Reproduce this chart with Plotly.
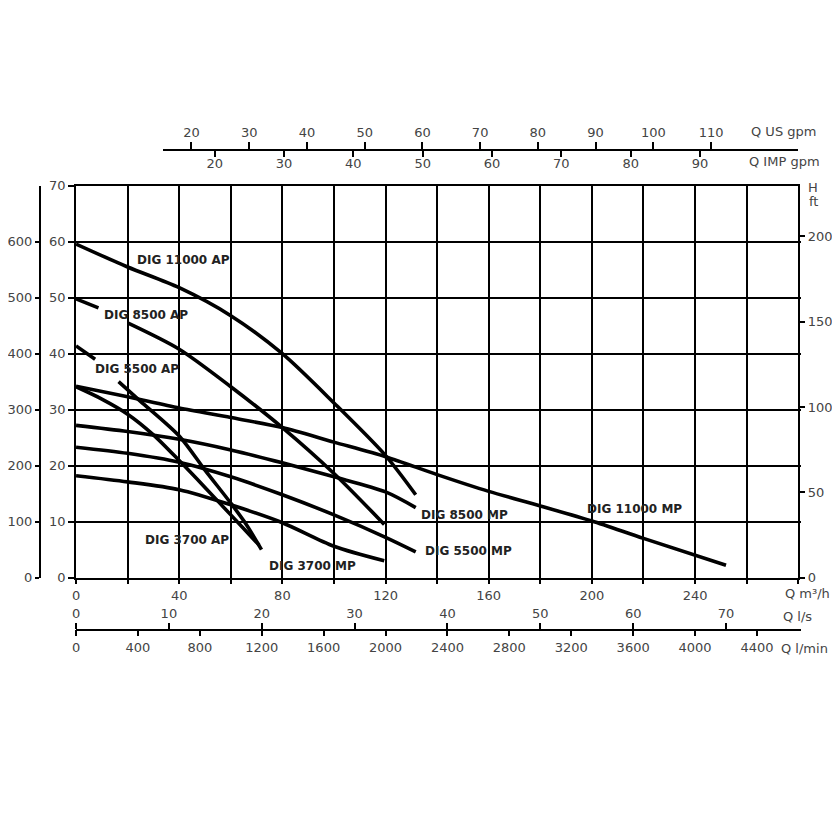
import plotly.graph_objects as go

# ---------------- data (Q in m3/h, H in m) ----------------
q_11000_ap = [0, 20, 40, 60, 80, 100, 120, 131.7]
h_11000_ap = [59.6, 55.5, 51.8, 46.8, 40.0, 31.2, 21.8, 14.8]

q_8500_ap = [0, 8.7, None, 20, 40, 60, 80, 100, 119.5]
h_8500_ap = [49.8, 48.2, None, 45.5, 40.8, 34.1, 26.8, 18.6, 9.5]

q_5500_ap = [0, 7.4, None, 16.5, 25, 40, 50, 60, 66, 71.9]
h_5500_ap = [41.4, 39.0, None, 35.0, 31.5, 25.3, 19.2, 13.3, 9.5, 5.0]

q_3700_ap = [0, 10, 20, 30, 40, 50, 60, 71]
h_3700_ap = [34.1, 31.9, 29.2, 25.5, 20.9, 16.1, 11.2, 5.8]

q_11000_mp = [0, 20, 40, 60, 80, 100, 120, 140, 160, 180, 200, 220, 252]
h_11000_mp = [34.2, 32.3, 30.3, 28.6, 26.8, 24.2, 21.6, 18.4, 15.4, 12.8, 10.1, 7.0, 2.2]

q_8500_mp = [0, 20, 40, 60, 80, 100, 120, 131.7]
h_8500_mp = [27.2, 26.1, 24.7, 22.8, 20.5, 18.0, 15.3, 12.5]

q_5500_mp = [0, 20, 40, 60, 80, 100, 120, 131.7]
h_5500_mp = [23.3, 22.2, 20.6, 18.0, 14.8, 11.2, 7.2, 4.6]

q_3700_mp = [0, 20, 40, 60, 80, 100, 119.5]
h_3700_mp = [18.2, 17.1, 15.7, 13.0, 9.8, 5.6, 3.0]

curve_names = ["DIG 11000 AP", "DIG 8500 AP", "DIG 5500 AP", "DIG 3700 AP",
               "DIG 11000 MP", "DIG 8500 MP", "DIG 5500 MP", "DIG 3700 MP"]
curve_q = [q_11000_ap, q_8500_ap, q_5500_ap, q_3700_ap,
           q_11000_mp, q_8500_mp, q_5500_mp, q_3700_mp]
curve_h = [h_11000_ap, h_8500_ap, h_5500_ap, h_3700_ap,
           h_11000_mp, h_8500_mp, h_5500_mp, h_3700_mp]

# label anchor points (Q, H)
label_q = [41.8, 27.1, 23.7, 42.9, 216.5, 150.7, 152.2, 91.8]
label_h = [56.7, 47.0, 37.2, 6.7, 12.3, 11.2, 4.7, 2.1]

# tick values
q_m3h_ticks = list(range(0, 281, 20))
q_m3h_labels = [str(v) if (v % 40 == 0 and v <= 240) else "" for v in q_m3h_ticks]
h_m_ticks = list(range(0, 71, 10))
h_kpa_ticks = list(range(0, 601, 100))
h_ft_ticks = list(range(0, 201, 50))
q_usgpm_ticks = list(range(20, 111, 10))
q_impgpm_ticks = list(range(20, 91, 10))
q_ls_ticks = list(range(0, 71, 10))
q_lmin_ticks = list(range(0, 4401, 400))

# unit conversions (as drawn on the chart)
M_TO_KPA = 10.0
M_TO_FT = 3.28084
M3H_TO_LS = 1 / 3.6
M3H_TO_LMIN = 1000 / 60
M3H_TO_USGPM = 0.4468
USGPM_TO_IMPGPM = 0.83267

Q_MAX = 280
H_MAX = 70

# ---------------- layout geometry (pixels of the 840x840 page) ----------------
PAGE = 840
BODY_MARGIN = 8           # default html body margin around the plot div
S = PAGE - 2 * BODY_MARGIN
PX_L, PX_R, PX_T, PX_B = 72.5, 800, 182, 581
TOP_AX_Y, TOP_AX_L = 145, 160
BOT_AX_Y, BOT_AX_R = 634, 803
KPA_AX_X = 36


def fx(p):
    return (p - BODY_MARGIN) / S


def fy(p):
    return 1 - (p - BODY_MARGIN) / S


def q_at(px):
    return (px - PX_L) / (PX_R - PX_L) * Q_MAX


FONT = "DejaVu Sans, Liberation Sans, Arial, sans-serif"
TICKFONT = dict(family=FONT, size=13, color="#444")

fig = go.Figure()

for name, qs, hs in zip(curve_names, curve_q, curve_h):
    fig.add_trace(go.Scatter(x=qs, y=hs, mode="lines", name=name,
                             line=dict(color="black", width=3.6, shape="spline", smoothing=0.8),
                             showlegend=False, hoverinfo="skip", xaxis="x", yaxis="y"))

# empty traces so that every extra axis is drawn
for xa, ya in [("x2", "y"), ("x3", "y"), ("x4", "y"), ("x5", "y"), ("x", "y2"), ("x", "y3")]:
    fig.add_trace(go.Scatter(x=[], y=[], xaxis=xa, yaxis=ya, showlegend=False, hoverinfo="skip"))

common = dict(showline=True, linecolor="black", linewidth=1.6, ticks="outside",
              tickcolor="black", tickwidth=1.6, tickfont=TICKFONT, zeroline=False,
              fixedrange=True)

fig.update_layout(
    width=S, height=S,
    margin=dict(l=0, r=0, t=0, b=0),
    paper_bgcolor="white", plot_bgcolor="rgba(0,0,0,0)",
    font=dict(family=FONT),
    xaxis=dict(domain=[fx(PX_L), fx(PX_R)], range=[0, Q_MAX], anchor="y",
               tickvals=q_m3h_ticks, ticktext=q_m3h_labels, ticklen=5,
               showgrid=True, gridcolor="black", gridwidth=1.6, mirror=True,
               **common),
    yaxis=dict(domain=[fy(PX_B), fy(PX_T)], range=[0, H_MAX], anchor="x",
               tickvals=h_m_ticks, ticklen=6,
               showgrid=True, gridcolor="black", gridwidth=1.6, mirror=True,
               **common),
    yaxis2=dict(overlaying="y", anchor="free", position=fx(KPA_AX_X), side="left",
                range=[0, H_MAX * M_TO_KPA], tickvals=h_kpa_ticks, ticklen=4,
                showgrid=False, **common),
    yaxis3=dict(overlaying="y", anchor="x", side="right",
                range=[0, H_MAX * M_TO_FT], tickvals=h_ft_ticks, ticklen=5,
                showgrid=False, **common),
    xaxis2=dict(domain=[fx(TOP_AX_L), fx(PX_R)], anchor="free", position=fy(TOP_AX_Y),
                side="top",
                range=[q_at(TOP_AX_L) * M3H_TO_USGPM, q_at(PX_R) * M3H_TO_USGPM],
                tickvals=q_usgpm_ticks, ticklen=7, showgrid=False, **common),
    xaxis3=dict(domain=[fx(TOP_AX_L), fx(PX_R)], anchor="free", position=fy(TOP_AX_Y),
                side="bottom",
                range=[q_at(TOP_AX_L) * M3H_TO_USGPM * USGPM_TO_IMPGPM,
                       q_at(PX_R) * M3H_TO_USGPM * USGPM_TO_IMPGPM],
                tickvals=q_impgpm_ticks, ticklen=7, ticklabelstandoff=-5,
                showgrid=False, **common),
    xaxis4=dict(domain=[fx(PX_L), fx(BOT_AX_R)], anchor="free", position=fy(BOT_AX_Y),
                side="top", range=[0, q_at(BOT_AX_R) * M3H_TO_LS],
                tickvals=q_ls_ticks, ticklen=6, showgrid=False, **common),
    xaxis5=dict(domain=[fx(PX_L), fx(BOT_AX_R)], anchor="free", position=fy(BOT_AX_Y),
                side="bottom", range=[0, q_at(BOT_AX_R) * M3H_TO_LMIN],
                tickvals=q_lmin_ticks, ticklen=6, showgrid=False, **common),
)

# curve labels
for name, lq, lh in zip(curve_names, label_q, label_h):
    fig.add_annotation(x=lq, y=lh, xref="x", yref="y", text="<b>" + name + "</b>",
                       xanchor="center", yanchor="middle", showarrow=False,
                       font=dict(family=FONT, size=12, color="#222"))

# axis unit labels
unit_labels = [("Q US gpm", 785.5, 127), ("Q IMP gpm", 786.5, 157),
               ("Q m³/h", 809, 597), ("Q l/s", 799, 621), ("Q l/min", 806, 653),
               ("H", 815, 184), ("ft", 815, 198)]
for txt, px, py in unit_labels:
    fig.add_annotation(x=fx(px), y=fy(py), xref="paper", yref="paper", text=txt,
                       xanchor="center", yanchor="middle", showarrow=False,
                       font=dict(family=FONT, size=13, color="#444"))

fig.write_html("out.html")
